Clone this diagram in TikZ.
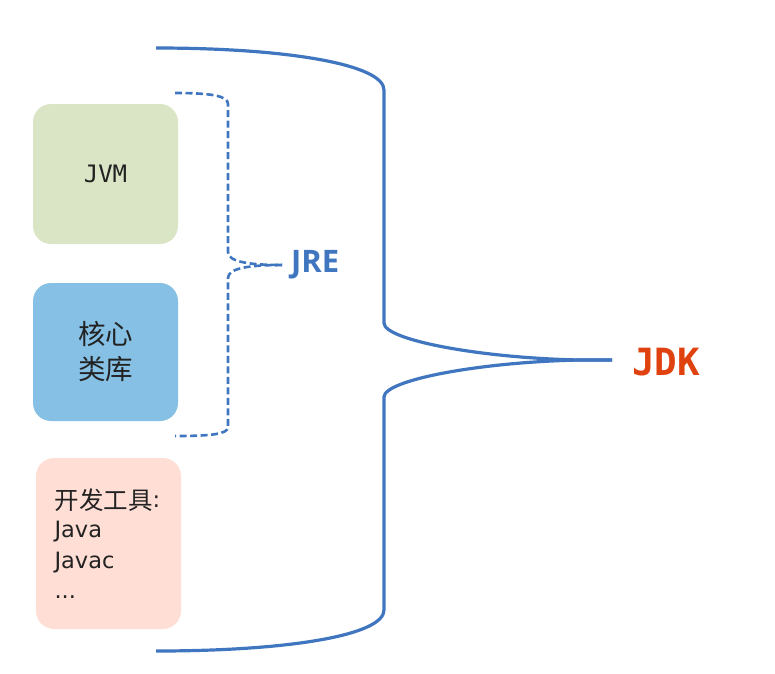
\documentclass[tikz,border=0pt]{standalone}
\usepackage{fontspec}
\setmainfont{DejaVu Sans}
\newfontfamily\cjk{Noto Sans CJK SC}
\newfontfamily\monofont{DejaVu Sans Mono}
\newfontfamily\labelfont{Open Sans}
\definecolor{linkblue}{HTML}{3F76BF}
\definecolor{jvmgreen}{HTML}{D9E5C4}
\definecolor{libblue}{HTML}{86C0E4}
\definecolor{toolpink}{HTML}{FFDFD5}
\definecolor{jdkred}{HTML}{E0420F}
\definecolor{textgray}{HTML}{222222}
\tikzset{
    part/.style={rounded corners=18pt, minimum width=145pt, text=textgray, inner sep=0pt},
    bigbrace/.style={draw=linkblue, line width=3.2pt},
    jrebrace/.style={draw=linkblue, line width=2.6pt, dash pattern=on 7pt off 3.5pt}
}
\begin{document}
\begin{tikzpicture}[x=1pt,y=-1pt]
        \useasboundingbox (0,0) rectangle (775,673);
        \node[part, fill=jvmgreen, minimum height=140pt, font=\monofont\fontsize{24}{28}\selectfont] (jvm) at (105.5,174) {JVM};
        \node[part, fill=libblue, minimum height=138pt, align=center, font=\cjk\fontsize{27.5}{35}\selectfont] (lib) at (105.5,352) {核心\\类库};
        \node[part, fill=toolpink, minimum height=171pt, text width=108pt, inner xsep=18.5pt, align=left, font=\fontsize{22.5}{30.5}\selectfont] (tools) at (108.5,543.5) {\raisebox{-2pt}{\cjk\fontsize{24.5}{30.5}\selectfont 开发工具}:\\Java\\Javac\\...};
        \node[text=linkblue, anchor=west, inner sep=0pt, font=\labelfont\bfseries\fontsize{31}{34}\selectfont] (jre) at (291,265) {JRE};
        \node[text=jdkred, anchor=west, inner sep=0pt, font=\monofont\bfseries\fontsize{37.5}{40}\selectfont] (jdk) at (632,362) {JDK};
        \coordinate (jretip) at (282,265);
        \coordinate (jdktip) at (612,360);
        \draw[jrebrace] (175,93) .. controls (212,93) and (228,96) .. (228,104) -- (228,252) .. controls (228,262) and (250,265) .. (jretip);
        \draw[jrebrace] (jretip) .. controls (250,265) and (228,268) .. (228,278) -- (228,427) .. controls (228,434) and (212,436) .. (175,436);
        \draw[bigbrace] (156,48) .. controls (290,48) and (384,65) .. (384,90) -- (384,323) .. controls (384,340) and (480,358) .. (580,360) -- (jdktip);
        \draw[bigbrace] (jdktip) -- (580,360) .. controls (480,362) and (384,380) .. (384,397) -- (384,610) .. controls (384,635) and (290,651) .. (156,651);
    \end{tikzpicture}
\end{document}
